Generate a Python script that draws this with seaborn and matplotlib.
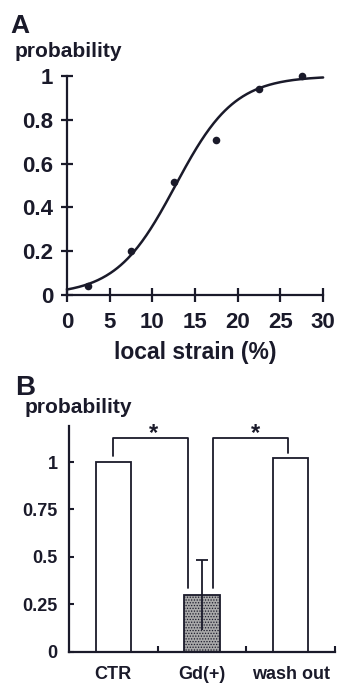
import numpy as np
import pandas as pd
import matplotlib
matplotlib.use("Agg")
import matplotlib.pyplot as plt
import seaborn as sns

# ---------------- data ----------------
# Panel A: measured probability vs local strain
strain_pts = [2.5, 7.5, 12.5, 17.5, 22.5, 27.5]
prob_pts = [0.04, 0.20, 0.515, 0.71, 0.94, 1.0]
# fitted sigmoid (parameters)
fit_midpoint = 12.7
fit_width = 3.47
strain_ticks = [0, 5, 10, 15, 20, 25, 30]
probA_ticks = [0, 0.2, 0.4, 0.6, 0.8, 1]
probA_ticklabels = ["0", "0.2", "0.4", "0.6", "0.8", "1"]

# Panel B: bar chart
conditions = ["CTR", "Gd(+)", "wash out"]
bar_prob = [1.0, 0.30, 1.02]
gd_err = 0.185
probB_ticks = [0, 0.25, 0.5, 0.75, 1]
probB_ticklabels = ["0", "0.25", "0.5", "0.75", "1"]
# significance brackets: (left x, right x, left leg bottom, right leg bottom)
brackets = [(0.0, 0.84, 1.03, 0.335), (1.12, 1.97, 0.335, 1.05)]
bracket_top = 1.125
star_x = [0.45, 1.60]

# ---------------- style ----------------
sns.set_theme(style="white")
plt.rcParams["font.family"] = ["Liberation Sans", "DejaVu Sans"]
plt.rcParams["font.weight"] = "bold"
plt.rcParams["hatch.linewidth"] = 0.6
ink = "#1a1a2a"

fig = plt.figure(figsize=(3.37, 6.84), dpi=100)

# ---------------- Panel A ----------------
axA = fig.add_axes([0.1988, 0.5687, 0.760, 0.3202])
curve_x = np.linspace(0, 30, 301)
curve_y = 1.0 / (1.0 + np.exp(-(curve_x - fit_midpoint) / fit_width))
dfc = pd.DataFrame({"strain": curve_x, "prob": curve_y})
dfp = pd.DataFrame({"strain": strain_pts, "prob": prob_pts})
sns.lineplot(data=dfc, x="strain", y="prob", ax=axA, color=ink, lw=1.8,
             clip_on=False)
sns.scatterplot(data=dfp, x="strain", y="prob", ax=axA, color=ink, s=30,
                edgecolor=ink, linewidth=0, clip_on=False, zorder=5)
axA.set_xlim(0, 30)
axA.set_ylim(0, 1)
axA.set_xticks(strain_ticks)
axA.set_yticks(probA_ticks)
axA.set_yticklabels(probA_ticklabels)
for s in ["top", "right"]:
    axA.spines[s].set_visible(False)
for s in ["left", "bottom"]:
    axA.spines[s].set_linewidth(1.6)
    axA.spines[s].set_color(ink)
axA.tick_params(axis="x", direction="inout", length=10, width=1.6,
                color=ink, labelsize=16, pad=7, bottom=True)
axA.tick_params(axis="y", direction="inout", length=8, width=1.6,
                color=ink, labelsize=16, pad=6, left=True)
for lab in axA.get_xticklabels() + axA.get_yticklabels():
    lab.set_fontweight("bold")
    lab.set_color(ink)
axA.set_xlabel("local strain (%)", fontsize=16.5, fontweight="bold",
               color=ink, labelpad=6)
axA.set_ylabel("")

fig.text(10 / 337, 1 - 33 / 684, "A", fontsize=19, fontweight="bold",
         color=ink, va="baseline", ha="left")
fig.text(15 / 337, 1 - 57 / 684, "probability", fontsize=15,
         fontweight="bold", color=ink, va="baseline", ha="left")

# ---------------- Panel B ----------------
axB = fig.add_axes([0.2047, 0.0472, 0.789, 0.33])
dfb = pd.DataFrame({"condition": conditions, "prob": bar_prob})
sns.barplot(data=dfb, x="condition", y="prob", order=conditions, ax=axB,
            width=0.4, color="white", edgecolor=ink, linewidth=1.3,
            errorbar=None)
gd_patch = axB.patches[1]
gd_patch.set_facecolor("#a9a9a9")
gd_patch.set_hatch("......")
gd_patch.set_edgecolor(ink)

eb = axB.errorbar([1], [bar_prob[1]], yerr=[[gd_err], [gd_err]], fmt="none",
                  ecolor=ink, elinewidth=1.3, capsize=4, capthick=1.3,
                  zorder=6)
eb[1][0].set_visible(False)

for (x0, x1, b0, b1) in brackets:
    axB.plot([x0, x0, x1, x1], [b0, bracket_top, bracket_top, b1],
             color=ink, lw=1.3, clip_on=False)
for sx in star_x:
    axB.text(sx, bracket_top - 0.035, "*", fontsize=17, fontweight="bold",
             color=ink, ha="center", va="bottom")

axB.set_xlim(-0.5, 2.5)
axB.set_ylim(0, 1.19)
axB.set_yticks(probB_ticks)
axB.set_yticklabels(probB_ticklabels)
axB.set_xticks([0, 1, 2])
axB.set_xticklabels(conditions)
axB.set_xticks([0.5, 1.5, 2.5], minor=True)
for s in ["top", "right"]:
    axB.spines[s].set_visible(False)
for s in ["left", "bottom"]:
    axB.spines[s].set_linewidth(1.6)
    axB.spines[s].set_color(ink)
axB.tick_params(axis="y", direction="in", length=3.5, width=1.5,
                color=ink, labelsize=13, pad=8, left=True)
axB.tick_params(axis="x", which="major", length=0, labelsize=13, pad=10)
axB.tick_params(axis="x", which="minor", direction="in", length=4,
                width=1.5, color=ink, bottom=True)
for lab in axB.get_xticklabels() + axB.get_yticklabels():
    lab.set_fontweight("bold")
    lab.set_color(ink)
axB.set_xlabel("")
axB.set_ylabel("")

fig.text(15 / 337, 1 - 395 / 684, "B", fontsize=20, fontweight="bold",
         color=ink, va="baseline", ha="left")
fig.text(25 / 337, 1 - 413 / 684, "probability", fontsize=15,
         fontweight="bold", color=ink, va="baseline", ha="left")

fig.savefig("out.png", dpi=100)
